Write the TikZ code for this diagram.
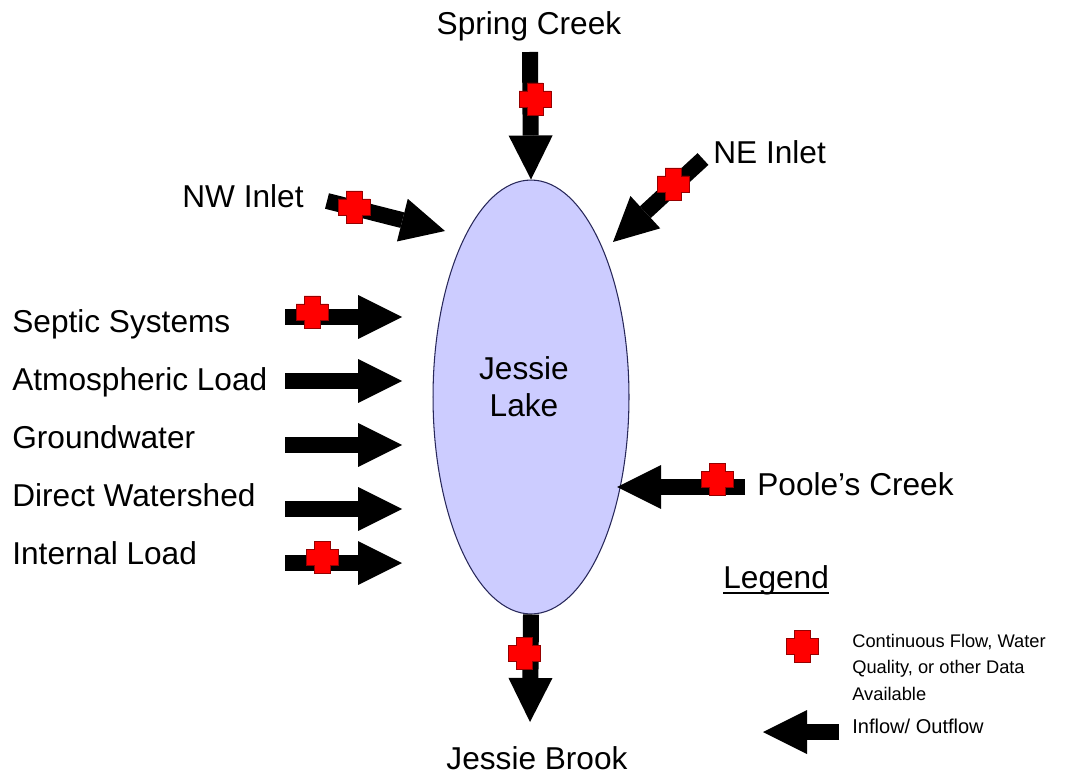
\documentclass[tikz,border=0pt]{standalone}
\usepackage{fontspec}
\setmainfont{Liberation Sans}
\usetikzlibrary{arrows.meta, shapes.geometric}
\definecolor{lakefill}{RGB}{204, 204, 255}
\definecolor{lakeline}{RGB}{40, 40, 90}
\definecolor{markred}{RGB}{255, 0, 0}
\definecolor{markedge}{RGB}{150, 0, 0}
\tikzset{
  flow/.style={line width=0.32cm, -{Triangle[length=0.88cm, width=0.88cm, line width=0pt]}},
  lake/.style={ellipse, draw=lakeline, line width=0.6pt, fill=lakefill, inner sep=0pt,
    minimum width=3.92cm, minimum height=8.68cm},
  place/.style={font=\fontsize{18}{21}\selectfont, inner sep=0pt},
  keytext/.style={font=\fontsize{10.4}{15}\selectfont, inner sep=0pt, align=left},
  datamark/.pic={
    \filldraw[fill=markred, draw=markedge, line width=0.5pt]
      (-8,16) -- (8,16) -- (8,8) -- (16,8) -- (16,-8) -- (8,-8) -- (8,-16)
      -- (-8,-16) -- (-8,-8) -- (-16,-8) -- (-16,8) -- (-8,8) -- cycle;
  }
}

\begin{document}
\begin{tikzpicture}[x=0.02cm, y=-0.02cm]
  \useasboundingbox (0,0) rectangle (1081,773);

  % The lake
  \node[lake] (lake) at (531,397) {};
  \node[place, align=center, anchor=base] (lakename) at (524,416) {Jessie\\Lake};

  % Free ends of the flows
  \coordinate (scA) at (530,52);
  \coordinate (nwA) at (327,201);
  \coordinate (nwB) at (445,231);
  \coordinate (neA) at (703,159);
  \coordinate (neB) at (613,242);
  \coordinate (pcA) at (745,487);
  \coordinate (pcB) at (617,487);
  \coordinate (jbB) at (530,722);
  \foreach \name/\y in {ss/317, al/381, gw/445, dw/509, il/563} {
    \coordinate (\name A) at (285,\y);
    \coordinate (\name B) at (402,\y);
  }

  % Inflows and outflow
  \draw[flow] (scA) -- (lake.north);
  \draw[flow] (nwA) -- (nwB);
  \draw[flow] (neA) -- (neB);
  \foreach \name in {ss, al, gw, dw, il} {
    \draw[flow] (\name A) -- (\name B);
  }
  \draw[flow] (pcA) -- (pcB);
  \draw[flow] (lake.south) -- (jbB);

  % Data available
  \pic (scmark) at (535,99) {datamark};
  \pic (nwmark) at (354,207) {datamark};
  \pic (nemark) at (673,184) {datamark};
  \pic (ssmark) at (312,312) {datamark};
  \pic (ilmark) at (322,557) {datamark};
  \pic (pcmark) at (717,479) {datamark};
  \pic (jbmark) at (524,653) {datamark};

  % Names
  \node[place, anchor=base] (sclbl) at (529,35) {Spring Creek};
  \node[place, anchor=base west] (nwlbl) at (182,208) {NW Inlet};
  \node[place, anchor=base west] (nelbl) at (713,164) {NE Inlet};
  \foreach \name/\y/\txt in {ss/333/Septic Systems, al/390/Atmospheric Load,
      gw/448/Groundwater, dw/506/Direct Watershed, il/564/Internal Load} {
    \node[place, anchor=base west] (\name lbl) at (12,\y) {\txt};
  }
  \node[place, anchor=base west] (pclbl) at (757,495) {Poole’s Creek};
  \node[place, anchor=base] (jblbl) at (537,769) {Jessie Brook};

  % Legend
  \node[place, anchor=base west] (keyhead) at (723,588) {Legend};
  \draw[line width=1.4pt] ([yshift=-0.1cm]keyhead.base west) -- ([yshift=-0.1cm]keyhead.base east);
  \pic (keymark) at (802,646) {datamark};
  \node[keytext, anchor=base west] (keymarktxt) at (852,700) {Continuous Flow, Water\\Quality, or other Data\\Available};
  \coordinate (keyA) at (839,732);
  \coordinate (keyB) at (763,732);
  \draw[flow] (keyA) -- (keyB);
  \node[keytext, font=\fontsize{11.4}{15}\selectfont, anchor=base west] (keyflowtxt) at (852,733) {Inflow/ Outflow};
\end{tikzpicture}
\end{document}
